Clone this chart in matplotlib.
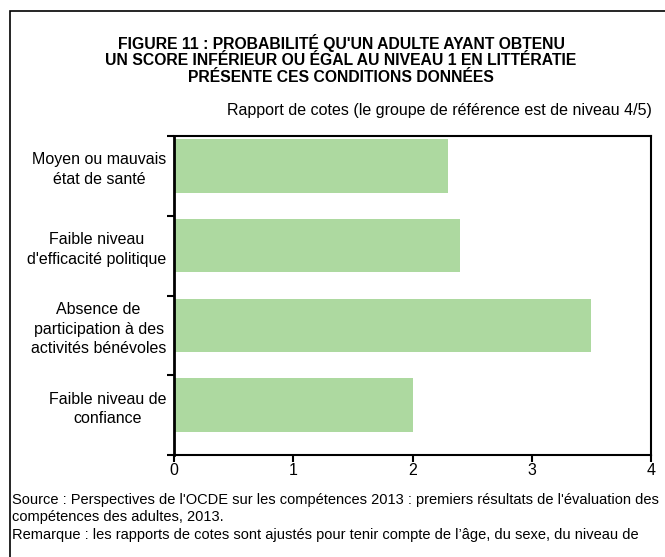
import matplotlib
matplotlib.use("Agg")
import matplotlib.pyplot as plt
from matplotlib.patches import Rectangle
import numpy as np

plt.rcParams['font.family'] = ['Liberation Sans', 'DejaVu Sans']

categories = ["Moyen ou mauvais\nétat de santé",
              "Faible niveau\nd'efficacité politique",
              "Absence de\nparticipation à des\nactivités bénévoles",
              "Faible niveau de\nconfiance"]
values = [2.3, 2.4, 3.5, 2.0]
xticks = [0, 1, 2, 3, 4]

title = ("FIGURE 11 : PROBABILITÉ QU'UN ADULTE AYANT OBTENU\n"
         "UN SCORE INFÉRIEUR OU ÉGAL AU NIVEAU 1 EN LITTÉRATIE\n"
         "PRÉSENTE CES CONDITIONS DONNÉES")
subtitle = "Rapport de cotes (le groupe de référence est de niveau 4/5)"
source = ("Source : Perspectives de l'OCDE sur les compétences 2013 : premiers résultats de l'évaluation des\n"
          "compétences des adultes, 2013.\n"
          "Remarque : les rapports de cotes sont ajustés pour tenir compte de l’âge, du sexe, du niveau de")

W, H = 665, 557
fig = plt.figure(figsize=(W / 100, H / 100), dpi=100)

# outer frame
fig.patches.append(Rectangle((10 / W, -0.05), 1.1, (H - 11) / H + 0.05,
                             transform=fig.transFigure, fill=False,
                             edgecolor='black', linewidth=1.2))

ax = fig.add_axes([174 / W, (H - 455) / H, (651 - 174) / W, (455 - 136) / H])
n = len(categories)
idx = np.arange(n)
ax.barh(idx + 0.04, values, height=0.67, align='edge', color='#ADD9A0', zorder=2)
ax.set_xlim(0, 4)
ax.set_ylim(n, 0)
ax.set_xticks(xticks)
ax.set_xticklabels([str(t) for t in xticks], fontsize=11.5)
ax.set_yticks(np.arange(n + 1))
ax.set_yticklabels([])
ax.set_yticks(idx + 0.375, minor=True)
ax.set_yticklabels(categories, minor=True, fontsize=11.5, multialignment='center')
ax.tick_params(axis='y', which='major', direction='out', length=5, width=1.5)
ax.tick_params(axis='y', which='minor', length=0, pad=5.5)
ax.tick_params(axis='x', direction='out', length=5, width=1.5, pad=1)
for s in ax.spines.values():
    s.set_linewidth(1.5)
ax.spines['left'].set_linewidth(2)
for lbl in ax.get_yticklabels(minor=True):
    lbl.set_linespacing(1.38)

fig.text(341 / W, (H - 34) / H, title, ha='center', va='top',
         fontsize=11.3, fontweight='bold', linespacing=1.12)
fig.text(652 / W, (H - 110) / H, subtitle, ha='right', va='center', fontsize=11.5)
fig.text(12 / W, (H - 493) / H, source, ha='left', va='top', fontsize=10.5, linespacing=1.3)

fig.savefig("out.png", dpi=100)
